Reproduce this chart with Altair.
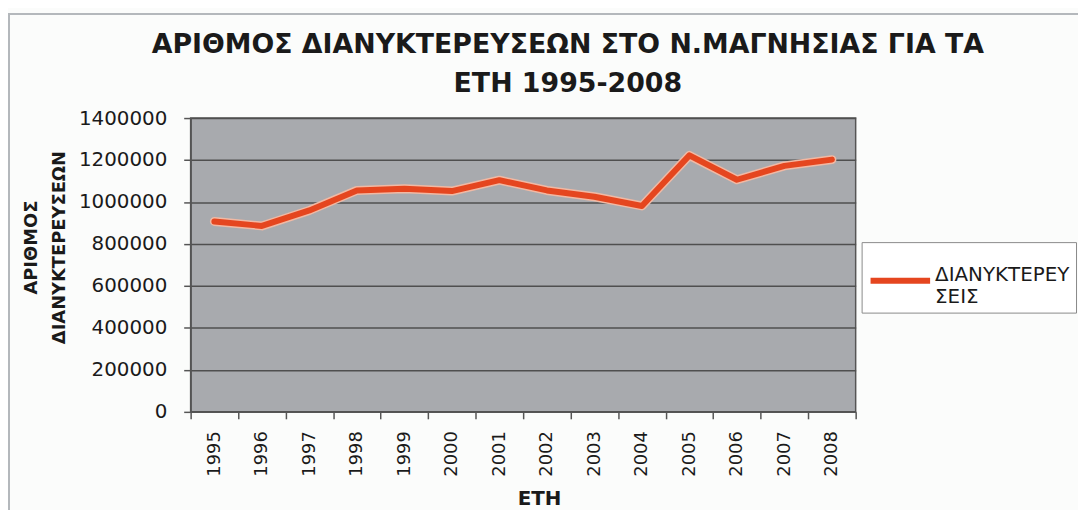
import altair as alt
import pandas as pd

years = ["1995", "1996", "1997", "1998", "1999", "2000", "2001",
         "2002", "2003", "2004", "2005", "2006", "2007", "2008"]
stays = [907000, 886000, 960000, 1055000, 1063000, 1052000, 1104000,
         1055000, 1025000, 981000, 1222000, 1106000, 1172000, 1202000]
series_name = "ΔΙΑΝΥΚΤΕΡΕΥΣΕΙΣ"
y_ticks = [0, 200000, 400000, 600000, 800000, 1000000, 1200000, 1400000]
title_lines = ["ΑΡΙΘΜΟΣ ΔΙΑΝΥΚΤΕΡΕΥΣΕΩΝ ΣΤΟ Ν.ΜΑΓΝΗΣΙΑΣ ΓΙΑ ΤΑ", "ΕΤΗ 1995-2008"]
y_title = ["ΑΡΙΘΜΟΣ", "ΔΙΑΝΥΚΤΕΡΕΥΣΕΩΝ"]
x_title = "ΕΤΗ"

df = pd.DataFrame({"year": years, "value": stays, "series": [series_name] * len(years)})

FONT = "DejaVu Sans"

x_enc = alt.X(
    "year:O",
    sort=years,
    scale=alt.Scale(type="band", paddingInner=0, paddingOuter=0),
    axis=alt.Axis(
        title=x_title,
        labelAngle=270,
        labelFontSize=18,
        labelColor="#1a1a1a",
        labelPadding=12,
        tickBand="extent",
        tickSize=7,
        tickColor="#555555",
        tickWidth=1.5,
        domainColor="#555555",
        domainWidth=1.5,
        grid=False,
        titleFontSize=20,
        titleFontWeight="bold",
        titleColor="#1a1a1a",
        titleX=351,
        titleY=93,
        titleBaseline="alphabetic",
        titleAlign="center",
    ),
)

y_enc = alt.Y(
    "value:Q",
    scale=alt.Scale(domain=[0, 1400000], nice=False),
    axis=alt.Axis(
        title=y_title,
        values=y_ticks,
        format="d",
        labelFontSize=20,
        labelColor="#1a1a1a",
        labelPadding=17,
        tickSize=7,
        tickColor="#555555",
        tickWidth=1.5,
        domainColor="#555555",
        domainWidth=1.5,
        grid=True,
        gridColor="#4f4f4f",
        gridWidth=1.5,
        titleFontSize=18,
        titleFontWeight="bold",
        titleColor="#1a1a1a",
        titleLineHeight=28,
        titleAngle=270,
        titleX=-155,
        titleY=130,
        titleBaseline="alphabetic",
        titleAlign="center",
    ),
)

frame_left = alt.Chart(df).mark_rule(color="#b4b8bc", strokeWidth=1.5).encode(
    x=alt.value(-183.5), y=alt.value(-105), y2=alt.value(400)
)
frame_top = alt.Chart(df).mark_rule(color="#b4b8bc", strokeWidth=1.5).encode(
    x=alt.value(-183.5), x2=alt.value(900), y=alt.value(-105)
)

halo = alt.Chart(df).mark_line(strokeWidth=9, color="#f1b9a4", strokeCap="round", strokeJoin="round").encode(
    x=x_enc, y=y_enc
)

line = alt.Chart(df).mark_line(strokeWidth=6, strokeCap="round", strokeJoin="round").encode(
    x=x_enc,
    y=y_enc,
    color=alt.Color(
        "series:N",
        scale=alt.Scale(range=["#e5461f"]),
        legend=alt.Legend(
            title=None,
            orient="none",
            legendX=676,
            legendY=125,
            symbolType="stroke",
            symbolSize=3600,
            symbolStrokeWidth=6,
            labelFontSize=20,
            labelColor="#1a1a1a",
            labelLimit=400,
            labelOffset=2,
            labelBaseline="alphabetic",
            labelExpr="[slice(datum.label, 0, 11), slice(datum.label, 11)]",
            padding=6,
            strokeColor="#8a8a8a",
            fillColor="#ffffff",
        ),
    ),
)

chart = (
    alt.layer(frame_left, frame_top, halo, line)
    .properties(
        width=670,
        height=296,
        autosize=alt.AutoSizeParams(type="none"),
        padding={"left": 184, "top": 109, "right": 224, "bottom": 97},
        background="#fbfcfb",
        title=alt.TitleParams(
            text=title_lines,
            fontSize=27,
            fontWeight="bold",
            font=FONT,
            color="#1a1a1a",
            lineHeight=40,
            anchor="middle",
            frame="group",
            dx=45,
            offset=-86,
        ),
    )
    .configure(font=FONT)
    .configure_view(fill="#a8aaae", stroke="#555555", strokeWidth=1.5)
    .configure_axis(labelFont=FONT, titleFont=FONT)
    .configure_legend(labelFont=FONT)
)

chart.save("out.html", embed_options={"renderer": "svg", "actions": False})
